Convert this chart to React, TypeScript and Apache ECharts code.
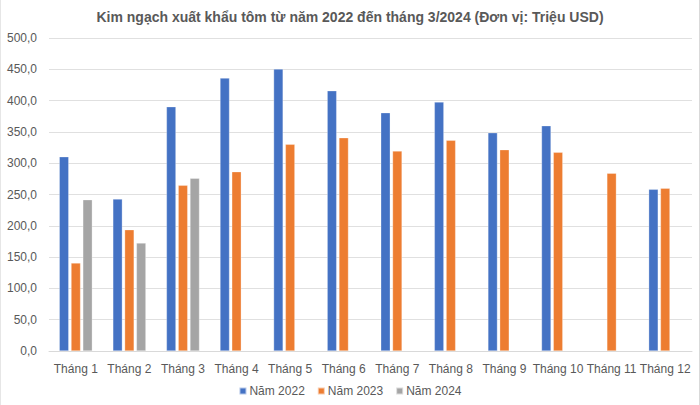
import React, { useEffect, useRef } from "react";
import * as echarts from "echarts";

const categories = ["Tháng 1", "Tháng 2", "Tháng 3", "Tháng 4", "Tháng 5", "Tháng 6", "Tháng 7", "Tháng 8", "Tháng 9", "Tháng 10", "Tháng 11", "Tháng 12"];
const y2022 = [310.4, 242.8, 390.3, 436.0, 450.5, 415.8, 380.7, 397.8, 348.7, 359.9, null, 258.3];
const y2023 = [140.6, 193.8, 264.7, 286.4, 330.2, 340.7, 319.5, 336.6, 321.6, 317.4, 283.9, 259.9];
const y2024 = [241.7, 172.5, 275.9, null, null, null, null, null, null, null, null, null];
const seriesNames = ["Năm 2022", "Năm 2023", "Năm 2024"];
const titleText = "Kim ngạch xuất khẩu tôm từ năm 2022 đến tháng 3/2024 (Đơn vị: Triệu USD)";

const colors = ["#4472C4", "#ED7D31", "#A5A5A5"];
const FONT = "'Liberation Sans', Arial, sans-serif";

export default function App() {
  const ref = useRef<HTMLDivElement>(null);
  useEffect(() => {
    document.body.style.margin = "0";
    const chart = echarts.init(ref.current!, null, { renderer: "svg" });
    const data = [y2022, y2023, y2024];
    chart.setOption({
      animation: false,
      backgroundColor: "#ffffff",
      textStyle: { fontFamily: FONT },
      title: {
        text: titleText,
        left: "center",
        top: 5,
        textStyle: { fontFamily: FONT, fontSize: 14, fontWeight: "bold", color: "#595959" },
      },
      legend: {
        data: seriesNames,
        bottom: 3,
        left: "center",
        itemWidth: 7,
        itemHeight: 7,
        itemGap: 12,
        icon: "rect",
        textStyle: { fontFamily: FONT, fontSize: 12, color: "#595959", padding: [0, 0, 0, -2] },
      },
      grid: { left: 48, right: 7, top: 38, bottom: 54, containLabel: false },
      xAxis: {
        type: "category",
        data: categories,
        axisLine: { lineStyle: { color: "#d9d9d9" } },
        axisTick: { show: false },
        axisLabel: { fontFamily: FONT, fontSize: 12, color: "#595959", margin: 12, interval: 0 },
      },
      yAxis: {
        type: "value",
        min: 0,
        max: 500,
        interval: 50,
        axisLine: { show: false },
        axisTick: { show: false },
        splitLine: { lineStyle: { color: "#e0e0e0" } },
        axisLabel: {
          fontFamily: FONT,
          fontSize: 12,
          color: "#595959",
          margin: 12,
          formatter: (v: number) => v.toFixed(1).replace(".", ","),
        },
      },
      series: seriesNames.map((name, i) => ({
        name,
        type: "bar",
        data: data[i],
        barWidth: 9.5,
        barGap: "24%",
        itemStyle: { color: colors[i], borderColor: "rgba(255,255,255,0.6)", borderWidth: 0.5 },
      })),
    });
    return () => chart.dispose();
  }, []);
  return (
    <div
      ref={ref}
      style={{ position: "absolute", left: 0, top: 0, width: 700, height: 405, boxSizing: "border-box", borderRight: "1px solid #d9d9d9", borderLeft: "1px solid #e6e6e6" }}
    />
  );
}
